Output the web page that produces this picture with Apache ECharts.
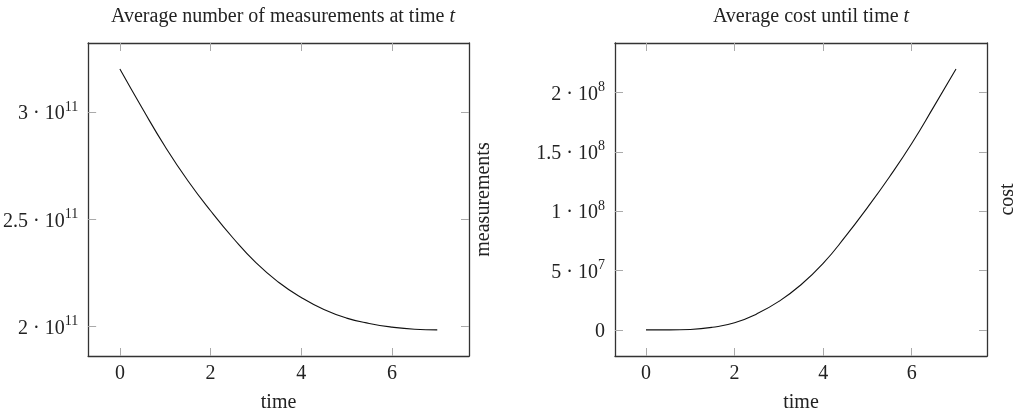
<!DOCTYPE html>
<html>
<head>
<meta charset="utf-8">
<script src="https://cdn.jsdelivr.net/npm/echarts@6/dist/echarts.min.js"></script>
<style>
html,body{margin:0;padding:0;background:#fff;}
#chart{width:1019px;height:418px;}
</style>
</head>
<body>
<div id="chart"></div>
<script>
// ---- data ----
const times = [0, 0.5, 1, 1.5, 2, 2.5, 3, 3.5, 4, 4.5, 5, 5.5, 6, 6.5, 7];
const measurements = [3.200e11, 3.015e11, 2.838e11, 2.680e11, 2.540e11, 2.412e11, 2.298e11, 2.207e11, 2.136e11, 2.080e11, 2.040e11, 2.015e11, 1.998e11, 1.988e11, 1.985e11];
const cost = [0, 0.0002e8, 0.004e8, 0.022e8, 0.060e8, 0.135e8, 0.240e8, 0.380e8, 0.560e8, 0.785e8, 1.030e8, 1.290e8, 1.570e8, 1.880e8, 2.196e8];
const xTicks = [0, 2, 4, 6];
const measTicks = [2e11, 2.5e11, 3e11];
const measTickLabels = [['2', '11'], ['2.5', '11'], ['3', '11']];
const costTicks = [0, 5e7, 1e8, 1.5e8, 2e8];
const costTickLabels = [['0', ''], ['5', '7'], ['1', '8'], ['1.5', '8'], ['2', '8']];
const titles = ['Average number of measurements at time ', 'Average cost until time '];
const titleVar = 't';
const xName = 'time';
const yNames = ['measurements', 'cost'];

// ---- rendering ----
const FONT = '"Liberation Serif", "DejaVu Serif", serif';
const FS = 20;
const TXT = '#222';
const AXIS = '#333';
const TICK = '#aaa';

function enlarge(arr) {
  const mn = Math.min(...arr), mx = Math.max(...arr);
  const d = (mx - mn) * 0.1;
  return [mn - d, mx + d];
}
const xr = enlarge(times);
const mr = enlarge(measurements);
const cr = enlarge(cost);

const rich = {
  b: {fontFamily: FONT, fontSize: FS, color: TXT, lineHeight: 24, verticalAlign: 'bottom'},
  s: {fontFamily: FONT, fontSize: 14, color: TXT, lineHeight: 24, verticalAlign: 'top'}
};
function labelFmt(ticks, labels) {
  return function (v) {
    let i = ticks.findIndex(t => Math.abs(t - v) < Math.abs(ticks[ticks.length - 1]) * 1e-6 + 1e-9);
    if (i < 0) return '';
    const [m, e] = labels[i];
    if (!e) return '{b|' + m + '}';
    return '{b|' + m + ' · 10}{s|' + e + '}';
  };
}

const grids = [
  {left: 87, top: 43, width: 382, height: 318},
  {left: 615, top: 43, width: 382, height: 318}
];

function xAxes(gi) {
  const common = {
    type: 'value', gridIndex: gi, min: xr[0], max: xr[1],
    splitLine: {show: false},
    axisLine: {show: true, onZero: false, lineStyle: {color: AXIS, width: 1.3}},
    axisTick: {show: true, inside: true, length: 8, customValues: xTicks, lineStyle: {color: TICK, width: 1}}
  };
  return [
    Object.assign({}, common, {
      position: 'bottom',
      axisLabel: {show: true, customValues: xTicks, margin: 8, fontFamily: FONT, fontSize: FS, color: TXT},
      name: xName, nameLocation: 'middle', nameGap: 37,
      nameTextStyle: {fontFamily: FONT, fontSize: FS, color: TXT}
    }),
    Object.assign({}, common, {position: 'top', axisLabel: {show: false}})
  ];
}
function yAxes(gi, range, ticks, labels, name, gap) {
  const common = {
    type: 'value', gridIndex: gi, min: range[0], max: range[1],
    splitLine: {show: false},
    axisLine: {show: true, onZero: false, lineStyle: {color: AXIS, width: 1.3}},
    axisTick: {show: true, inside: true, length: 8, customValues: ticks, lineStyle: {color: TICK, width: 1}}
  };
  return [
    Object.assign({}, common, {
      position: 'left',
      axisLabel: {show: true, customValues: ticks, margin: 10, formatter: labelFmt(ticks, labels), rich: rich}
    }),
    Object.assign({}, common, {
      position: 'right', axisLabel: {show: false},
      name: name, nameLocation: 'middle', nameRotate: 90, nameGap: gap,
      nameTextStyle: {fontFamily: FONT, fontSize: FS, color: TXT}
    })
  ];
}

const titleRich = {
  n: {fontFamily: FONT, fontSize: FS, color: TXT, fontWeight: 'normal'},
  i: {fontFamily: FONT, fontSize: FS, color: TXT, fontStyle: 'italic', fontWeight: 'normal'}
};

const option = {
  backgroundColor: '#fff',
  animation: false,
  title: [
    {text: '{n|' + titles[0] + '}{i|' + titleVar + '}', left: 278, top: 2, textAlign: 'center', textStyle: {fontWeight: 'normal', rich: titleRich}},
    {text: '{n|' + titles[1] + '}{i|' + titleVar + '}', left: 806, top: 2, textAlign: 'center', textStyle: {fontWeight: 'normal', rich: titleRich}}
  ],
  grid: grids,
  xAxis: xAxes(0).concat(xAxes(1)),
  yAxis: yAxes(0, mr, measTicks, measTickLabels, yNames[0], 5).concat(yAxes(1, cr, costTicks, costTickLabels, yNames[1], 11)),
  series: [
    {type: 'line', xAxisIndex: 0, yAxisIndex: 0, data: times.map((t, i) => [t, measurements[i]]),
     showSymbol: false, smooth: true, lineStyle: {color: '#111', width: 1.1}},
    {type: 'line', xAxisIndex: 2, yAxisIndex: 2, data: times.map((t, i) => [t, cost[i]]),
     showSymbol: false, smooth: true, lineStyle: {color: '#111', width: 1.1}}
  ]
};

const chart = echarts.init(document.getElementById('chart'), null, {renderer: 'canvas'});
chart.setOption(option);
</script>
</body>
</html>
